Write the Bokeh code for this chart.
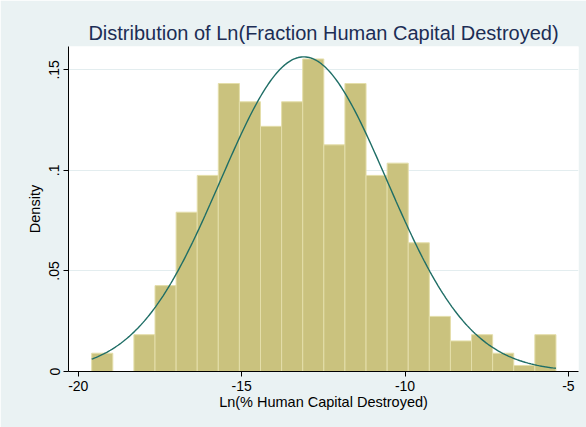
import numpy as np
from bokeh.plotting import figure
from bokeh.models import Range1d, FixedTicker, ColumnDataSource
from bokeh.embed import file_html
from bokeh.resources import INLINE

# ---- data ----
bin_edges = [-19.590, -18.944, -18.298, -17.652, -17.006, -16.360, -15.715, -15.069,
             -14.423, -13.777, -13.131, -12.485, -11.839, -11.193, -10.547, -9.901,
             -9.256, -8.610, -7.964, -7.318, -6.672, -6.026, -5.380]
density = [0.0091, 0.0, 0.0183, 0.0427, 0.0792, 0.0975, 0.1432, 0.1341, 0.1219, 0.1341,
           0.1554, 0.1127, 0.1432, 0.0975, 0.1036, 0.0640, 0.0274, 0.0152, 0.0183, 0.0091,
           0.0030, 0.0183]
normal_mean = -13.10
normal_sd = 2.55
x_ticks = [-20, -15, -10, -5]
x_tick_labels = ["-20", "-15", "-10", "-5"]
y_ticks = [0, 0.05, 0.1, 0.15]
y_tick_labels = ["0", ".05", ".1", ".15"]

FONT = "Liberation Sans"
BG = "#EAF2F3"

p = figure(width=586, height=427, output_backend="svg", toolbar_location=None,
           x_range=Range1d(-20.30, -4.69), y_range=Range1d(0, 0.1616),
           min_border_left=68, min_border_right=8, min_border_top=46, min_border_bottom=56)
p.background_fill_color = "white"
p.border_fill_color = BG
p.outline_line_color = None

p.title.text = "Distribution of Ln(Fraction Human Capital Destroyed)"
p.title.text_font = FONT
p.title.text_font_size = "20px"
p.title.text_font_style = "normal"
p.title.text_color = "#1c2d55"
p.title.align = "center"
p.title.standoff = 5

bars = ColumnDataSource(dict(left=bin_edges[:-1], right=bin_edges[1:], top=density))
p.quad(left="left", right="right", top="top", bottom=0, source=bars,
       fill_color="#CAC27E", line_color="#E4DEAA", line_width=1)

xs = np.linspace(bin_edges[0], bin_edges[-1], 300)
ys = np.exp(-0.5 * ((xs - normal_mean) / normal_sd) ** 2) / (normal_sd * np.sqrt(2 * np.pi))
p.line(xs, ys, line_color="#1F6E66", line_width=1.4)

for ax in (p.xaxis[0], p.yaxis[0]):
    ax.axis_line_color = "black"
    ax.major_tick_line_color = "black"
    ax.major_tick_out = 5
    ax.major_tick_in = 0
    ax.minor_tick_line_color = None
    ax.major_label_text_font = FONT
    ax.major_label_text_font_size = "14px"
    ax.major_label_text_color = "black"
    ax.axis_label_text_font = FONT
    ax.axis_label_text_font_size = "14.5px"
    ax.axis_label_text_font_style = "normal"
    ax.axis_label_text_color = "black"

p.xaxis.ticker = FixedTicker(ticks=x_ticks)
p.xaxis.major_label_overrides = {t: s for t, s in zip(x_ticks, x_tick_labels)}
p.xaxis.axis_label = "Ln(% Human Capital Destroyed)"
p.xaxis.major_label_standoff = 4
p.xaxis.axis_label_standoff = 0

p.yaxis.ticker = FixedTicker(ticks=y_ticks)
p.yaxis.major_label_overrides = {t: s for t, s in zip(y_ticks, y_tick_labels)}
p.yaxis.major_label_orientation = "vertical"
p.yaxis.axis_label = "Density"
p.yaxis.major_label_standoff = 4
p.yaxis.axis_label_standoff = 4

p.xgrid.visible = False
p.ygrid.ticker = FixedTicker(ticks=y_ticks)
p.ygrid.grid_line_color = "#E3EDEF"

open("out.html", "w").write(file_html(p, INLINE))
